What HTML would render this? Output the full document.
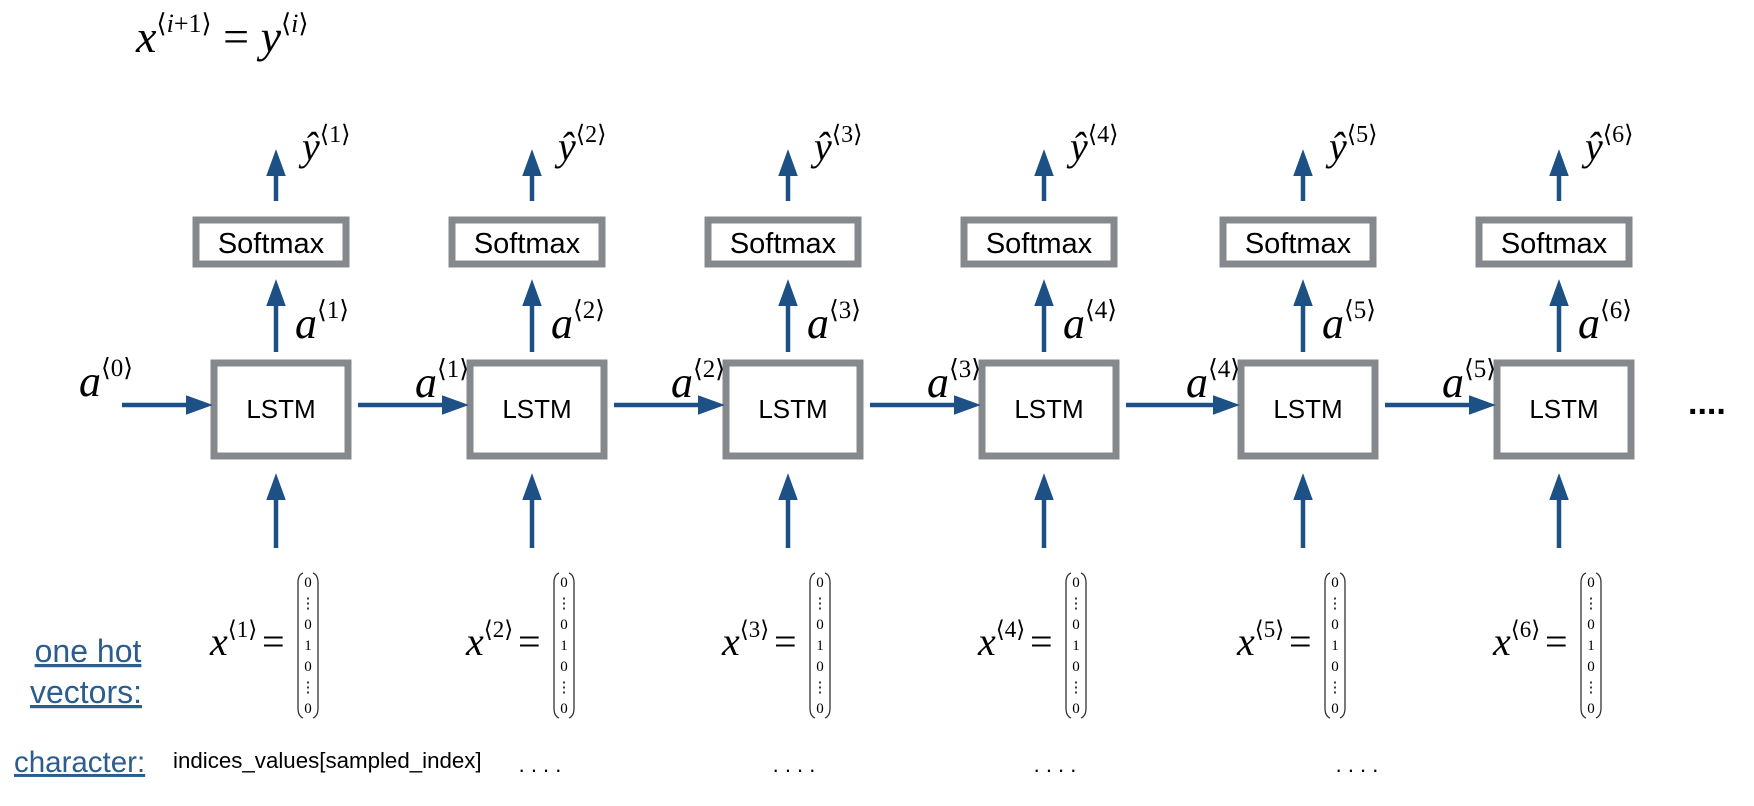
<!DOCTYPE html>
<html><head><meta charset="utf-8"><style>
html,body{margin:0;padding:0;background:#fff}
svg{display:block}
.m{font-family:"Liberation Serif",serif;font-style:italic;fill:#000}
.s{font-family:"Liberation Serif",serif;font-style:normal;fill:#000}
.sans{font-family:"Liberation Sans",sans-serif;fill:#000}
.link{font-family:"Liberation Sans",sans-serif;fill:#2c5d8f}
</style></head><body>
<svg id="d" width="1754" height="806" viewBox="0 0 1754 806" xmlns="http://www.w3.org/2000/svg">
<defs>
<marker id="ah" markerWidth="6" markerHeight="6" refX="1" refY="1.6" orient="auto" markerUnits="strokeWidth" viewBox="0 0 4.4 3.2"><path d="M0,0 L4.4,1.6 L0,3.2 z" fill="#1d5186"/></marker>
</defs>
<text x="136" y="52" class="m" font-size="46">x<tspan class="s" font-size="26" dy="-20">⟨</tspan><tspan font-size="26">i</tspan><tspan class="s" font-size="26">+1⟩</tspan><tspan dy="20" class="s"> = </tspan>y<tspan class="s" font-size="26" dy="-20">⟨</tspan><tspan font-size="26">i</tspan><tspan class="s" font-size="26">⟩</tspan></text>
<text x="88" y="662" class="link" font-size="32" text-anchor="middle" text-decoration="underline">one hot</text>
<text x="86" y="703" class="link" font-size="32" text-anchor="middle" text-decoration="underline">vectors:</text>
<text x="14" y="772" class="link" font-size="29.5" text-decoration="underline">character:</text>
<text x="173" y="768" class="sans" font-size="22.3">indices_values[sampled_index]</text>
<text x="1688" y="414" class="sans" font-size="34" font-weight="bold">....</text>
<g id="cols"></g>
</svg>
<script>
const steps = [1,2,3,4,5,6];
const colX = [276,532,788,1044,1303,1559];
const charDots = [false,true,true,true,true,false];
const dotX = [0,540,794,1055,1357,0];
const NS='http://www.w3.org/2000/svg';
const g=document.getElementById('cols');
const BLUE='#1d5186', GRAY='#85888c';
function mk(t,a,p){const e=document.createElementNS(NS,t);for(const k in a)e.setAttribute(k,a[k]);(p||g).appendChild(e);return e;}
function sup(parent,base,idx,x,y,fs,ss){
  const t=mk('text',{x:x,y:y,class:'m','font-size':fs},parent);
  t.textContent=base;
  const s=mk('tspan',{class:'s','font-size':ss,dy:-fs*0.45},t);
  s.textContent='⟨'+idx+'⟩';
  return t;
}
const SW=4.5;
steps.forEach((k,i)=>{
  const c=colX[i];
  const grp=mk('g',{});
  
  
  let e=mk('line',{x1:c,y1:201,x2:c,y2:170,stroke:BLUE,'stroke-width':SW,'marker-end':'url(#ah)'},grp);
  
  
  let yh=sup(grp,'ŷ',k,c+26,160,40,24);
  
  
  e=mk('rect',{x:c-80,y:220,width:150,height:44,fill:'#fff',stroke:GRAY,'stroke-width':7},grp);
  
  
  e=mk('text',{x:c-5,y:253,class:'sans','font-size':29,'text-anchor':'middle'},grp);
  e.textContent='Softmax';
  
  
  e=mk('line',{x1:c,y1:352,x2:c,y2:300,stroke:BLUE,'stroke-width':SW,'marker-end':'url(#ah)'},grp);
  
  
  let al=sup(grp,'a',k,c+19,338,44,25);
  
  
  e=mk('rect',{x:c-62,y:363,width:134,height:93,fill:'#fff',stroke:GRAY,'stroke-width':7},grp);
  
  
  e=mk('text',{x:c+5,y:418,class:'sans','font-size':26,'text-anchor':'middle'},grp);
  e.textContent='LSTM';
  
  
  const x1 = i===0 ? 122 : colX[i-1]+82;
  e=mk('line',{x1:x1,y1:405,x2:c-84,y2:405,stroke:BLUE,'stroke-width':SW,'marker-end':'url(#ah)'},grp);
  
  
  let hl = i===0 ? sup(grp,'a',0,79,396,44,25) : sup(grp,'a',k-1,c-117,397,44,25);
  
  
  e=mk('line',{x1:c,y1:548,x2:c,y2:494,stroke:BLUE,'stroke-width':SW,'marker-end':'url(#ah)'},grp);
  
  
  let xl=sup(grp,'x',k,c-66,655,40,23);
  
  
  e=mk('text',{x:c-14,y:655,class:'s','font-size':40},grp);
  e.textContent='=';
  
  
  const bx=c+22;
  e=mk('path',{d:`M${bx+5},573 Q${bx},575 ${bx},583 L${bx},708 Q${bx},716 ${bx+5},718`,fill:'none',stroke:'#333','stroke-width':1.3},grp);
  
  
  e=mk('path',{d:`M${bx+15},573 Q${bx+20},575 ${bx+20},583 L${bx+20},708 Q${bx+20},716 ${bx+15},718`,fill:'none',stroke:'#333','stroke-width':1.3},grp);
  
  
  const entries=['0','⋮','0','1','0','⋮','0'];
  entries.forEach((v,j)=>{
    const t=mk('text',{x:bx+10,y:587+j*21,class:'s','font-size':15,'text-anchor':'middle',fill:'#333'},grp);
    t.textContent=v;
    
    
  });
  if(charDots[i]){
    const t=mk('text',{x:dotX[i],y:772,class:'sans','font-size':22,'text-anchor':'middle'},grp);
    t.textContent='. . . .';
    
    
  }
});
</script>
</body></html>
